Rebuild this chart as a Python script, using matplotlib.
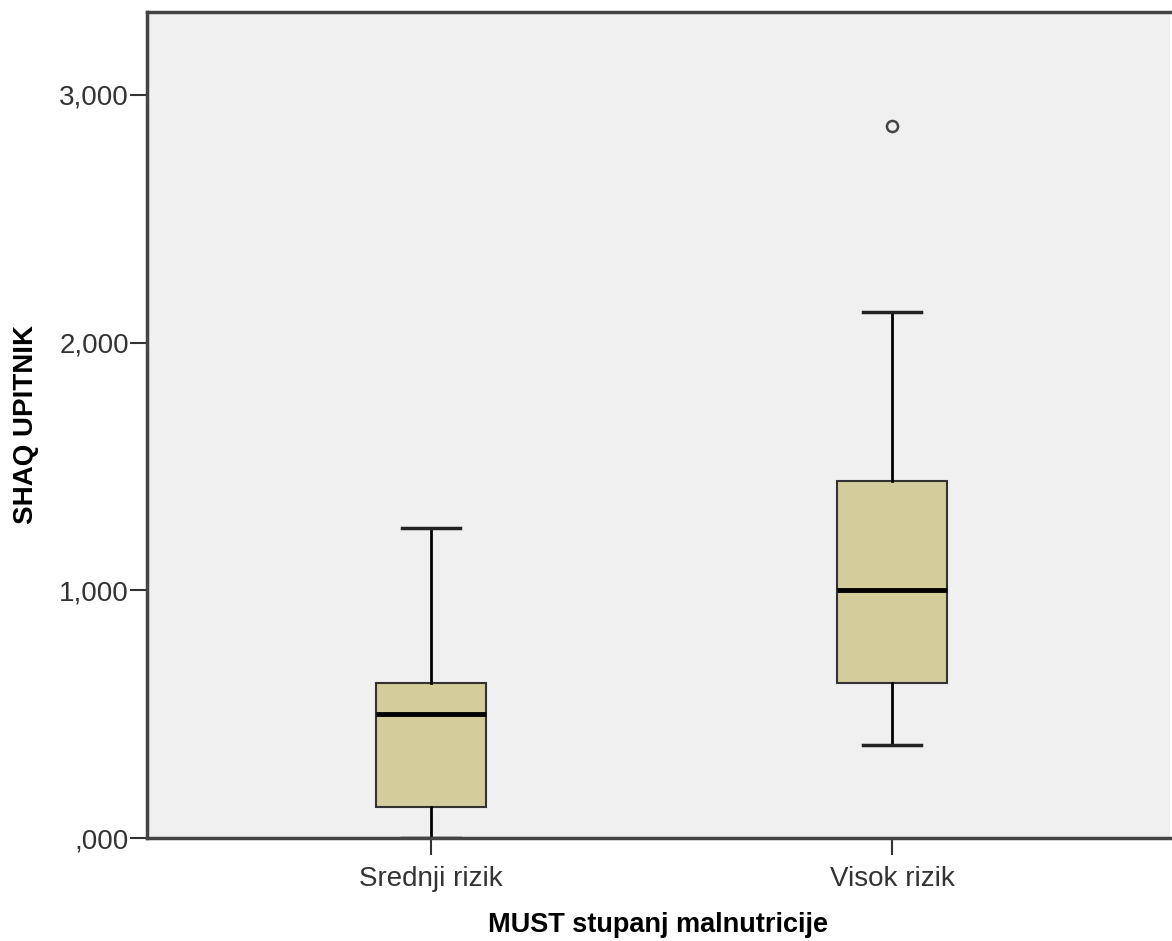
import matplotlib
matplotlib.use("Agg")
import matplotlib.pyplot as plt

groups = ["Srednji rizik", "Visok rizik"]
whislo = [0.0, 0.375]
q1 = [0.125, 0.625]
med = [0.5, 1.0]
q3 = [0.625, 1.44]
whishi = [1.25, 2.125]
fliers = [[], [2.875]]
ytick_vals = [0, 1, 2, 3]
ytick_labels = [",000", "1,000", "2,000", "3,000"]

plt.rcParams['font.family'] = ['Liberation Sans', 'DejaVu Sans']

fig = plt.figure(figsize=(11.72, 9.41), dpi=100)
ax = fig.add_axes([147/1172, 103/941, 1023/1172, 826/941])
ax.set_facecolor('#f0f0f0')

stats = []
for i in range(len(groups)):
    stats.append(dict(label=groups[i], whislo=whislo[i], q1=q1[i], med=med[i],
                      q3=q3[i], whishi=whishi[i], fliers=fliers[i]))

ax.bxp(stats, positions=[1, 2], widths=0.24, patch_artist=True,
       boxprops=dict(facecolor='#d3cd9b', edgecolor='#333333', linewidth=1.5),
       medianprops=dict(color='black', linewidth=3.5),
       whiskerprops=dict(color='black', linewidth=2),
       capprops=dict(color='#222222', linewidth=2.5),
       capwidths=0.125,
       flierprops=dict(marker='o', markerfacecolor='none', markeredgecolor='#444444',
                       markersize=8, markeredgewidth=1.8))

ax.set_xlim(0.384, 2.603)
ax.set_ylim(0, 3.335)
ax.set_yticks(ytick_vals)
ax.set_yticklabels(ytick_labels)
ax.tick_params(axis='both', labelsize=20, labelcolor='#333333', color='#333333',
               length=12, width=1.5, direction='out')
ax.tick_params(axis='y', pad=1)
ax.tick_params(axis='x', pad=8)

for s in ['left', 'top', 'bottom']:
    ax.spines[s].set_color('#444444')
    ax.spines[s].set_linewidth(2.5)
ax.spines['right'].set_visible(False)

ax.set_xlabel("MUST stupanj malnutricije", fontsize=19.5, fontweight='bold')
ax.set_ylabel("SHAQ UPITNIK", fontsize=20, fontweight='bold')
ax.xaxis.set_label_coords(0.5, -0.09)
ax.yaxis.set_label_coords(-0.106, 0.5)

fig.savefig("out.png", dpi=100)
